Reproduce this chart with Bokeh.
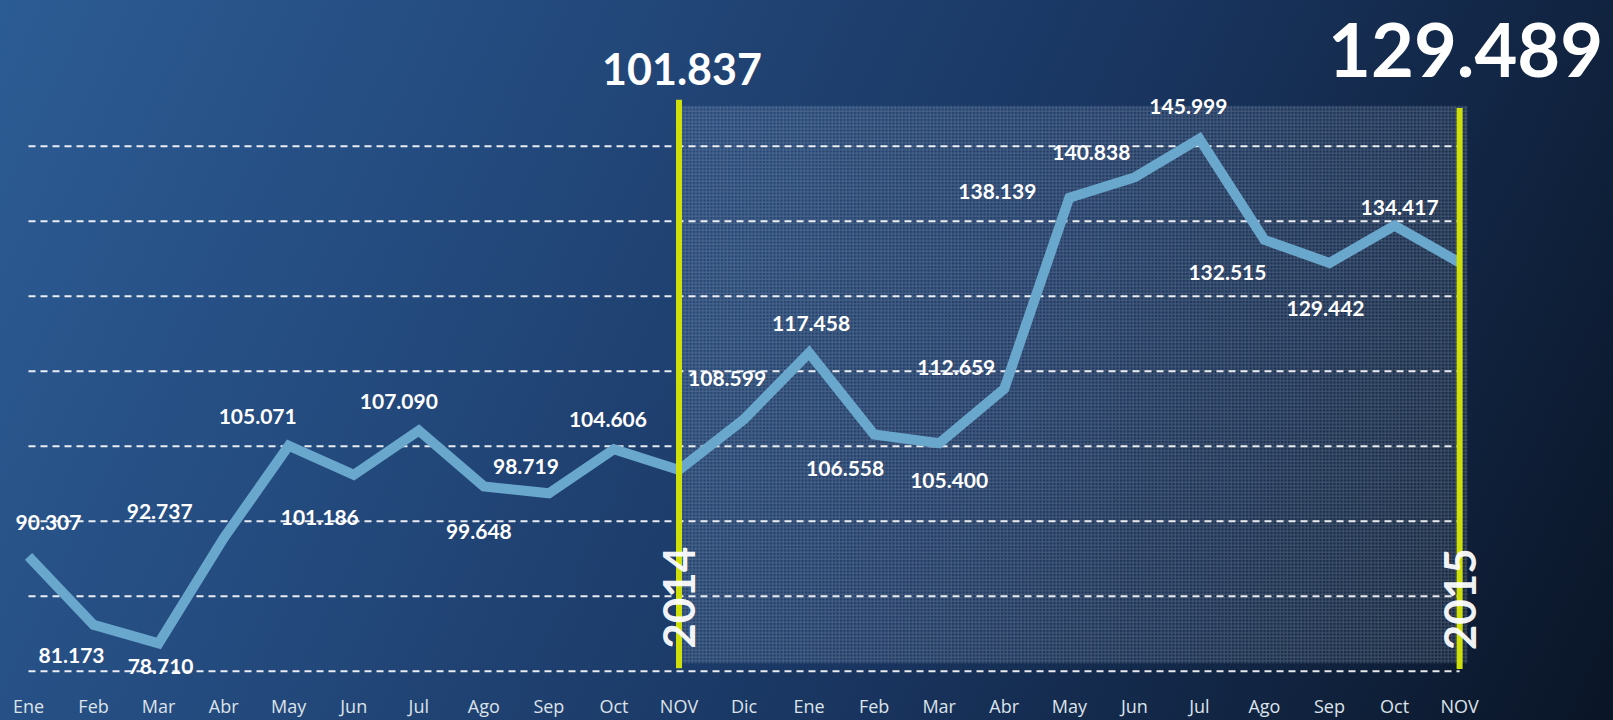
import math
from bokeh.plotting import figure
from bokeh.models import FixedTicker, Range1d, ColumnDataSource
from bokeh.core.properties import value
from bokeh.embed import file_html
from bokeh.resources import INLINE

# ---- data ----
months = ["Ene", "Feb", "Mar", "Abr", "May", "Jun", "Jul", "Ago", "Sep", "Oct", "NOV",
          "Dic", "Ene", "Feb", "Mar", "Abr", "May", "Jun", "Jul", "Ago", "Sep", "Oct", "NOV"]
values = [90.307, 81.173, 78.710, 92.737, 105.071, 101.186, 107.090, 99.648, 98.719,
          104.606, 101.837, 108.599, 117.458, 106.558, 105.400, 112.659, 138.139,
          140.838, 145.999, 132.515, 129.442, 134.417, 129.489]
grid_values = [75, 85, 95, 105, 115, 125, 135, 145]
year_labels = ["2014", "2015"]
year_index = [10, 22]

# ---- layout (label offsets in px, relative to each point) ----
label_dx = [20, -22, 2, -64, -31, -34, -20, -5, -23, -6, 0, -17, 2, -29, 10, -48,
            -72, -43, -11, -37, -4, 5, 0]
label_dy = [-34, 31, 23, -27, -29, 43, -29, 45, -27, -30, 0, -41, -29, 34, 37, -21,
            -6, -25, -32, 33, 46, -18, 0]

W, H = 1613, 720
px_per_unit = 7.48
px_per_step = 65.05
x_start = -28 / px_per_step
frame_h = 673.3
y_top = 75 + 669 / px_per_unit
y_bot = y_top - frame_h / px_per_unit

p = figure(width=W, height=H, output_backend="svg", toolbar_location=None,
           x_range=Range1d(x_start, x_start + W / px_per_step),
           y_range=Range1d(y_bot, y_top), y_axis_location=None,
           min_border=0)
p.styles = {"background": "linear-gradient(115deg, #2c5c94 0%, #23497c 30%, #193560 60%, #0a1526 100%)"}
p.background_fill_color = None
p.border_fill_color = None
p.outline_line_color = None
p.grid.visible = False

# x axis
xs = list(range(len(values)))
p.xaxis.ticker = FixedTicker(ticks=xs)
p.xaxis.major_label_overrides = {i: m for i, m in enumerate(months)}
p.xaxis.axis_line_color = None
p.xaxis.major_tick_line_color = None
p.xaxis.minor_tick_line_color = None
p.xaxis.major_label_text_color = "#dde3ea"
p.xaxis.major_label_text_font = "Open Sans"
p.xaxis.major_label_text_font_size = "18px"
p.xaxis.major_label_standoff = 12

# shaded (textured) region between the two years
p.quad(left=[year_index[0]], right=[year_index[1] + 0.12], bottom=[76.07], top=[150.4],
       fill_color="#8195b2", fill_alpha=0.08, line_color=None,
       hatch_pattern="+", hatch_scale=3.5, hatch_weight=1,
       hatch_color="#c6d2e2", hatch_alpha=0.24)

# dashed grid lines
p.segment(x0=[0] * len(grid_values), x1=[len(values) - 1] * len(grid_values),
          y0=grid_values, y1=grid_values, line_color="white", line_alpha=0.9,
          line_width=2, line_dash="7 5")

# data line
p.line(xs, values, line_width=10, line_color="#6aa7cc", line_join="miter")

# yellow year markers
p.segment(x0=year_index, x1=year_index, y0=[75.4, 75.3], y1=[151.2, 150.1],
          line_color="#cfdf0a", line_width=6)

# data labels (small)
small = [i for i in xs if i not in year_index]
src = ColumnDataSource(dict(
    x=[xs[i] for i in small], y=[values[i] for i in small],
    t=[f"{values[i]:.3f}" for i in small],
    dx=[label_dx[i] for i in small], dy=[label_dy[i] for i in small]))
p.text(x="x", y="y", text="t", x_offset="dx", y_offset="dy", source=src,
       text_color="white", text_font=value("Lato"), text_font_style="bold",
       text_font_size="21px", text_align="center", text_baseline="middle")

# big labels at the year markers
p.text(x=[year_index[0]], y=[155.3], text=[f"{values[year_index[0]]:.3f}"],
       x_offset=[3],
       text_color="white", text_font=value("Lato"), text_font_style="bold",
       text_font_size="43px", text_align="center", text_baseline="middle")
p.text(x=[year_index[1]], y=[157.9], text=[f"{values[year_index[1]]:.3f}"],
       x_offset=[6],
       text_color="white", text_font=value("Lato"), text_font_style="bold",
       text_font_size="74px", text_align="center", text_baseline="middle")

# year texts (rotated)
p.text(x=year_index, y=[84.8, 84.6], text=year_labels, angle=math.pi / 2,
       text_color="white", text_alpha=0.95, text_font=value("Lato"),
       text_font_style="bold", text_font_size="44px",
       text_align="center", text_baseline="middle")

open("out.html", "w").write(file_html(p, INLINE))
